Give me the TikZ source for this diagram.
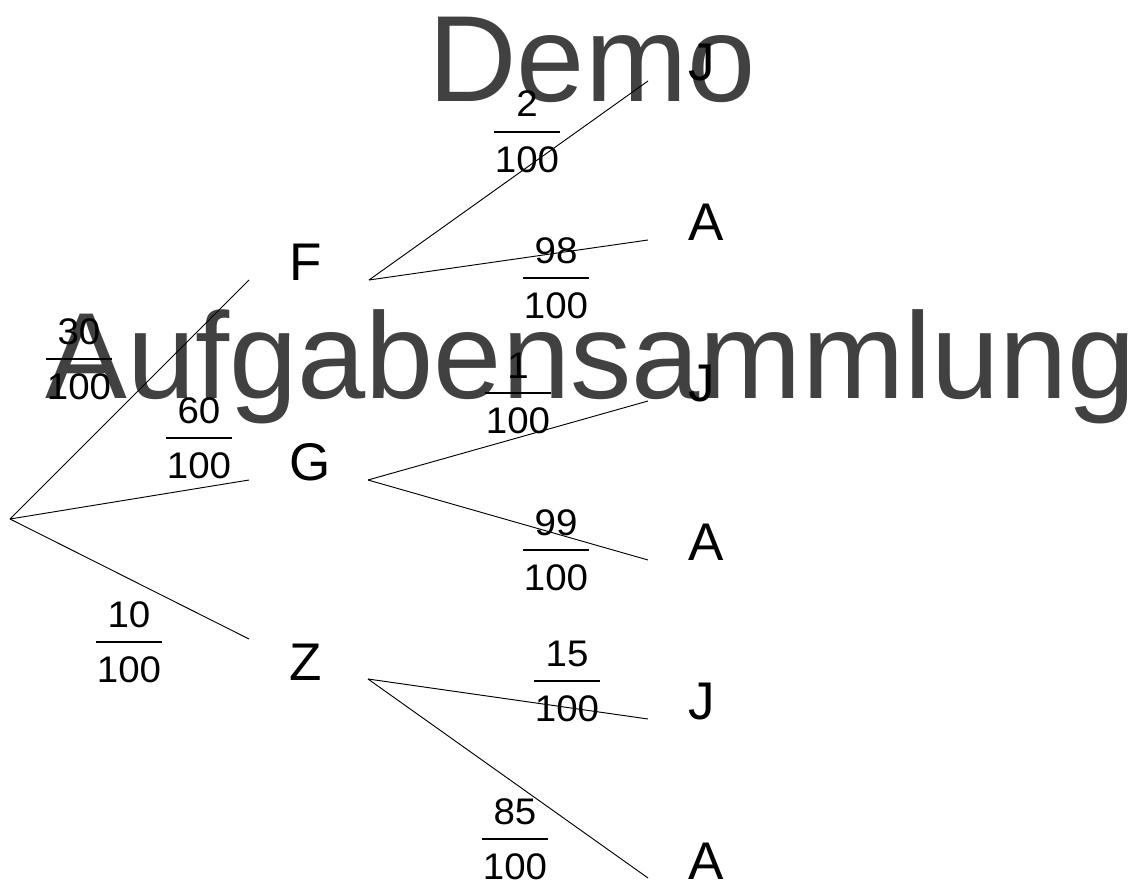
\documentclass[tikz,border=0pt]{standalone}
\usepackage{fontspec}
\setmainfont{Liberation Sans}
\newfontfamily\digitfont[FakeStretch=1.04]{Liberation Sans}
\definecolor{wmgray}{RGB}{65,65,65}

% probability label: numerator, fraction bar, denominator
% #1 name, #2 x of bar centre, #3 y of bar, #4 numerator, #5 denominator
\newcommand\probfrac[5]{%
  \node[num] (#1n) at (#2,#3-15) {#4};
  \draw[fracbar] (#2-33,#3) -- (#2+33,#3);
  \node[num] (#1d) at (#2,#3+40) {#5};}

\begin{document}
\begin{tikzpicture}[x=0.75pt,y=-0.75pt,
  leaf/.style={anchor=base west, inner sep=0pt, font=\fontsize{39.75pt}{40pt}\selectfont},
  num/.style={anchor=base, inner sep=0pt, font=\digitfont\fontsize{27.75pt}{28pt}\selectfont},
  branch/.style={line width=0.7pt},
  fracbar/.style={line width=1.6pt},
  watermark/.style={anchor=base west, inner sep=0pt, text=wmgray, font=\fontsize{92pt}{92pt}\selectfont}]
\useasboundingbox (0,0) rectangle (1139,881);

% watermark text
\node[watermark] (wmdemo) at (428,102) {Demo};
\node[watermark] (wmauf) at (45,398) {Aufgabensammlung};

% tree nodes
\coordinate (root) at (10,519);
\node[leaf] (F) at (289,280) {F};
\node[leaf] (G) at (289,480) {G};
\node[leaf] (Z) at (289,680) {Z};
\node[leaf] (FJ) at (688,81) {J};
\node[leaf] (FA) at (688,240) {A};
\node[leaf] (GJ) at (688,401) {J};
\node[leaf] (GA) at (688,560) {A};
\node[leaf] (ZJ) at (688,719) {J};
\node[leaf] (ZA) at (688,879) {A};

% first level branches
\draw[branch] (root) -- ([shift={(-40,0)}]F.base west);
\draw[branch] (root) -- ([shift={(-40,0)}]G.base west);
\draw[branch] (root) -- ([shift={(-40,-41)}]Z.base west);

% second level branches
\draw[branch] ([shift={(80,0)}]F.base west) -- ([shift={(-40,0)}]FJ.base west);
\draw[branch] ([shift={(80,0)}]F.base west) -- ([shift={(-40,0)}]FA.base west);
\draw[branch] ([shift={(79,0)}]G.base west) -- ([shift={(-40,0)}]GJ.base west);
\draw[branch] ([shift={(79,0)}]G.base west) -- ([shift={(-40,0)}]GA.base west);
\draw[branch] ([shift={(79,-1)}]Z.base west) -- ([shift={(-40,0)}]ZJ.base west);
\draw[branch] ([shift={(79,-1)}]Z.base west) -- ([shift={(-40,-1)}]ZA.base west);

% probabilities
\probfrac{p30}{79}{359}{30}{100}
\probfrac{p60}{199}{438}{60}{100}
\probfrac{p10}{129}{642}{10}{100}
\probfrac{p2}{527}{132}{2}{100}
\probfrac{p98}{556}{278}{98}{100}
\probfrac{p1}{518}{393}{1}{100}
\probfrac{p99}{556}{550}{99}{100}
\probfrac{p15}{567}{681}{15}{100}
\probfrac{p85}{515}{839}{85}{100}
\end{tikzpicture}
\end{document}
